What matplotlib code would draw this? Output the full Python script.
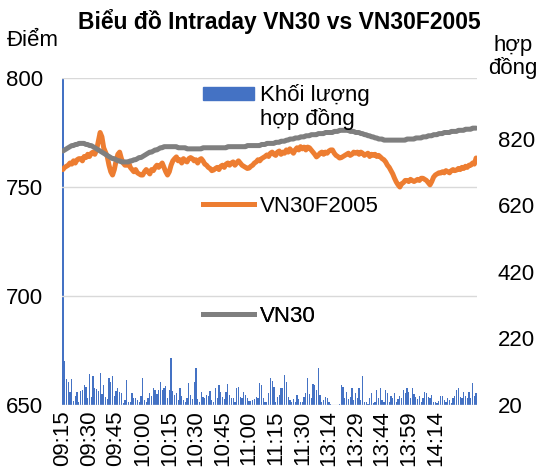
import matplotlib
matplotlib.use("Agg")
import matplotlib.pyplot as plt
from matplotlib.patches import Patch, Rectangle
from matplotlib.lines import Line2D
from matplotlib.legend_handler import HandlerPatch

plt.rcParams['font.family'] = ['Liberation Sans', 'DejaVu Sans']

# ---- data ----
sessions = [("09:15", 136), ("13:00", 98)]   # start time, number of minutes
last_label = "14:14"                          # axis labels stop here in the original

vn30f = [
    758, 759, 759.5, 760, 761, 760.5, 762, 761, 762.5, 763,
    763, 762, 764, 763.5, 765, 764, 765.5, 766, 765, 767,
    771, 775, 773, 768, 766, 764, 760, 757, 755.5, 758,
    762, 765, 766, 763, 761, 760, 760, 761.5, 759, 758,
    757, 758, 756.5, 756, 755.5, 755.5, 757, 758, 757, 756,
    758, 757.5, 759, 760, 759, 760, 761, 759, 757, 755.5,
    757, 760, 762, 763, 763.8, 762, 762.5, 761, 763, 762,
    761.5, 763, 763.5, 763, 762, 762.5, 761, 762.5, 763, 762,
    760.5, 760, 759, 758.5, 757.5, 757.8, 758.5, 759, 758, 759.5,
    760, 759, 760.5, 761, 760, 761, 761.5, 760, 761, 762,
    761, 760, 759.5, 759, 758.5, 758.7, 759.5, 760, 761, 761.5,
    762.5, 762, 763, 763.5, 764, 764.7, 764, 765.5, 766, 765,
    764.5, 766, 766.5, 765, 766, 765.5, 767, 766, 767.5, 766.5,
    765.5, 767, 768, 767, 768.5, 767.5, 768.3, 767, 768.3, 768,
    767, 766, 765, 763.8, 764.5, 765.5, 766, 765, 766, 765.5,
    766.5, 767, 767, 765.5, 764.5, 764, 763.3, 763.5, 764, 764.5,
    765, 765.5, 764.5, 765, 766, 765.5, 766, 765, 766, 765.5,
    764.5, 765, 765.5, 764, 765, 764.5, 765, 764, 764.5, 763.8,
    763, 762.5, 761.5, 760, 759, 757.5, 756, 754, 752.3, 751,
    750, 751.5, 752, 753, 753, 752.5, 753.5, 753, 752.5, 753,
    753.5, 753, 754, 754, 753.5, 753, 752, 751, 752.5, 754.5,
    755.5, 756, 756.5, 756.4, 757, 756.5, 757.5, 757, 756.5, 757.5,
    758, 757.5, 757.8, 758.5, 758, 759, 758.5, 759.5, 759, 760,
    760, 761, 760.5, 763.3,
]

vn30 = [
    766.5, 767, 767.5, 768, 768.5, 769, 769, 769.5, 769.5, 770,
    770, 770, 770, 769.5, 769.5, 769, 769, 768.5, 768, 767.5,
    767, 766.5, 766, 765.5, 765, 764.5, 764, 763.5, 763, 763,
    762.5, 762, 762, 761.5, 761.5, 761.5, 761.5, 761.5, 762, 762,
    762.5, 762.5, 763, 763.5, 763.5, 764, 764.5, 765, 765.5, 766,
    766, 766.5, 767, 767, 767.5, 768, 768, 768.5, 768.5, 768.5,
    768.5, 768.5, 768.5, 768.5, 768.5, 768, 768, 768, 768, 768,
    767.5, 767.5, 767.5, 767.5, 767.5, 767.5, 767.5, 767.5, 767.5, 768,
    768, 768, 768, 768, 768, 768, 768, 768, 768, 768,
    768, 768, 768, 768.5, 768.5, 768.5, 768.5, 768.5, 768.5, 768.5,
    768.5, 768.5, 768.5, 768.5, 769, 769, 769, 769, 769, 769,
    769, 769, 769.5, 769.5, 769.5, 770, 770, 770, 770, 770,
    770.5, 770.5, 770.5, 771, 771, 771, 771.5, 771.5, 772, 772,
    772, 772.5, 772.5, 772.5, 773, 773, 773, 773.5, 773.5, 773.5,
    774, 774, 774, 774, 774.5, 774.5, 774.5, 774.5, 775, 775,
    775, 775, 775, 775.5, 775.5, 775.5, 776, 776, 776, 776,
    776, 776, 775.5, 775.5, 775.5, 775, 775, 775, 774.5, 774.5,
    774, 774, 773.5, 773.5, 773, 773, 772.5, 772.5, 772, 772,
    772, 771.5, 771.5, 771.5, 771.5, 771.5, 771.5, 771.5, 771.5, 771.5,
    771.5, 771.5, 771.5, 771.5, 772, 772, 772, 772, 772, 772.5,
    772.5, 772.5, 772.5, 773, 773, 773, 773.5, 773.5, 773.5, 774,
    774, 774, 774.5, 774.5, 774.5, 775, 775, 775, 775, 775.5,
    775.5, 775.5, 775.5, 776, 776, 776, 776, 776.5, 776.5, 776.5,
    776.5, 777, 777, 777,
]

volume = [
    3000, 152, 98, 90, 60, 98, 32, 48, 58, 30,
    62, 66, 80, 75, 40, 112, 44, 108, 72, 68,
    62, 115, 54, 80, 45, 38, 100, 90, 108, 48,
    62, 70, 58, 55, 25, 35, 95, 30, 28, 55,
    40, 42, 35, 28, 48, 100, 34, 30, 40, 55,
    48, 70, 66, 52, 65, 90, 66, 72, 78, 40,
    66, 161, 62, 50, 56, 34, 70, 48, 35, 30,
    40, 85, 50, 38, 88, 131, 38, 30, 60, 45,
    40, 50, 48, 63, 35, 30, 72, 42, 80, 60,
    45, 38, 60, 82, 50, 42, 40, 30, 70, 75,
    44, 40, 58, 50, 42, 32, 32, 35, 38, 45,
    40, 85, 80, 42, 30, 28, 55, 100, 92, 75,
    30, 45, 50, 70, 72, 110, 90, 45, 35, 30,
    38, 28, 50, 38, 28, 30, 45, 55, 100, 52,
    42, 82, 80, 65, 131, 50, 30, 35, 45, 40,
    28, 24, 15, 18, 12, 20, 22, 80, 75, 40,
    60, 38, 45, 70, 35, 55, 42, 70, 35, 107,
    30, 28, 22, 40, 55, 25, 30, 65, 40, 70,
    35, 28, 65, 55, 30, 48, 42, 55, 30, 38,
    48, 42, 65, 55, 72, 60, 40, 70, 52, 45,
    38, 48, 30, 42, 60, 55, 45, 42, 50, 28,
    30, 25, 32, 48, 48, 35, 28, 40, 35, 25,
    42, 48, 65, 70, 44, 42, 60, 48, 40, 60,
    40, 86, 48, 55,
]

left_ticks = [650, 700, 750, 800]
right_ticks = [20, 220, 420, 620, 820]

# minute labels for the category axis
times = []
for start, n in sessions:
    h, m = map(int, start.split(":"))
    for k in range(n):
        t = h * 60 + m + k
        times.append(f"{t // 60:02d}:{t % 60:02d}")

x = list(range(len(times)))
tick_idx = [i for i in x[::15] if i <= times.index(last_label)]
tick_lab = [times[i] for i in tick_idx]

BLUE = '#4472C4'
ORANGE = '#ED7D31'
GRAY = '#7F7F7F'
FS = 16

W, H = 548, 474
fig = plt.figure(figsize=(W / 100, H / 100), dpi=100)
ax = fig.add_axes([62 / W, 1 - 405 / H, (477 - 62) / W, (405 - 78) / H])
ax2 = ax.twinx()

# volume bars on the secondary axis
base = right_ticks[0]
ax2.bar(x, [v - base for v in volume], bottom=base, width=0.7, color=BLUE, linewidth=0)
ax2.set_ylim(20, 1003)
ax2.set_yticks(right_ticks)

ax.plot(x, vn30f, color=ORANGE, lw=3.6, solid_capstyle='round')
ax.plot(x, vn30, color=GRAY, lw=3.6, solid_capstyle='round')
ax.set_ylim(650, 800)
ax.set_yticks(left_ticks)
ax.set_xlim(-0.5, len(x) - 0.5)
ax.set_xticks(tick_idx)
ax.set_xticklabels(tick_lab, rotation=90, va='top', ha='center')
ax.grid(axis='y', color='#D9D9D9', lw=1)
ax.set_axisbelow(True)

ax.set_zorder(ax2.get_zorder() + 1)
ax.patch.set_visible(False)

for a in (ax, ax2):
    for s in a.spines.values():
        s.set_visible(False)
    a.tick_params(length=0, labelsize=FS, colors='black')
ax.tick_params(axis='y', pad=13.5)
ax.tick_params(axis='x', pad=4)
ax2.tick_params(axis='y', pad=15)

# titles
fig.text(279 / W, 1 - 22 / H, "Biểu đồ Intraday VN30 vs VN30F2005", ha='center', va='center',
         fontsize=16.5, fontweight='bold')
fig.text(7 / W, 1 - 41 / H, "Điểm", ha='left', va='center', fontsize=FS)
fig.text(513 / W, 1 - 57 / H, "hợp\nđồng", ha='center', va='center', fontsize=FS,
         linespacing=1.1)


def raised_patch(legend, orig_handle, xdescent, ydescent, width, height, fontsize):
    return Rectangle((-xdescent, -ydescent + 0.62 * fontsize), width, height)


entries = [
    (Patch(color=BLUE), "Khối lượng\nhợp đồng", 107),
    (Line2D([], [], color=ORANGE, lw=3.6), "VN30F2005", 206),
    (Line2D([], [], color=GRAY, lw=3.6), "VN30", 316),
]
for handle, label, yy in entries:
    leg = ax.legend([handle], [label], loc='center left',
                    bbox_to_anchor=(203 / W, 1 - yy / H), bbox_transform=fig.transFigure,
                    frameon=False, fontsize=FS, borderpad=0, borderaxespad=0,
                    handlelength=2.3, handleheight=0.5, handletextpad=0.25,
                    handler_map={Patch: HandlerPatch(patch_func=raised_patch)})
    for t in leg.get_texts():
        t.set_linespacing(1.1)
    ax.add_artist(leg)

fig.savefig("out.png", dpi=100)
